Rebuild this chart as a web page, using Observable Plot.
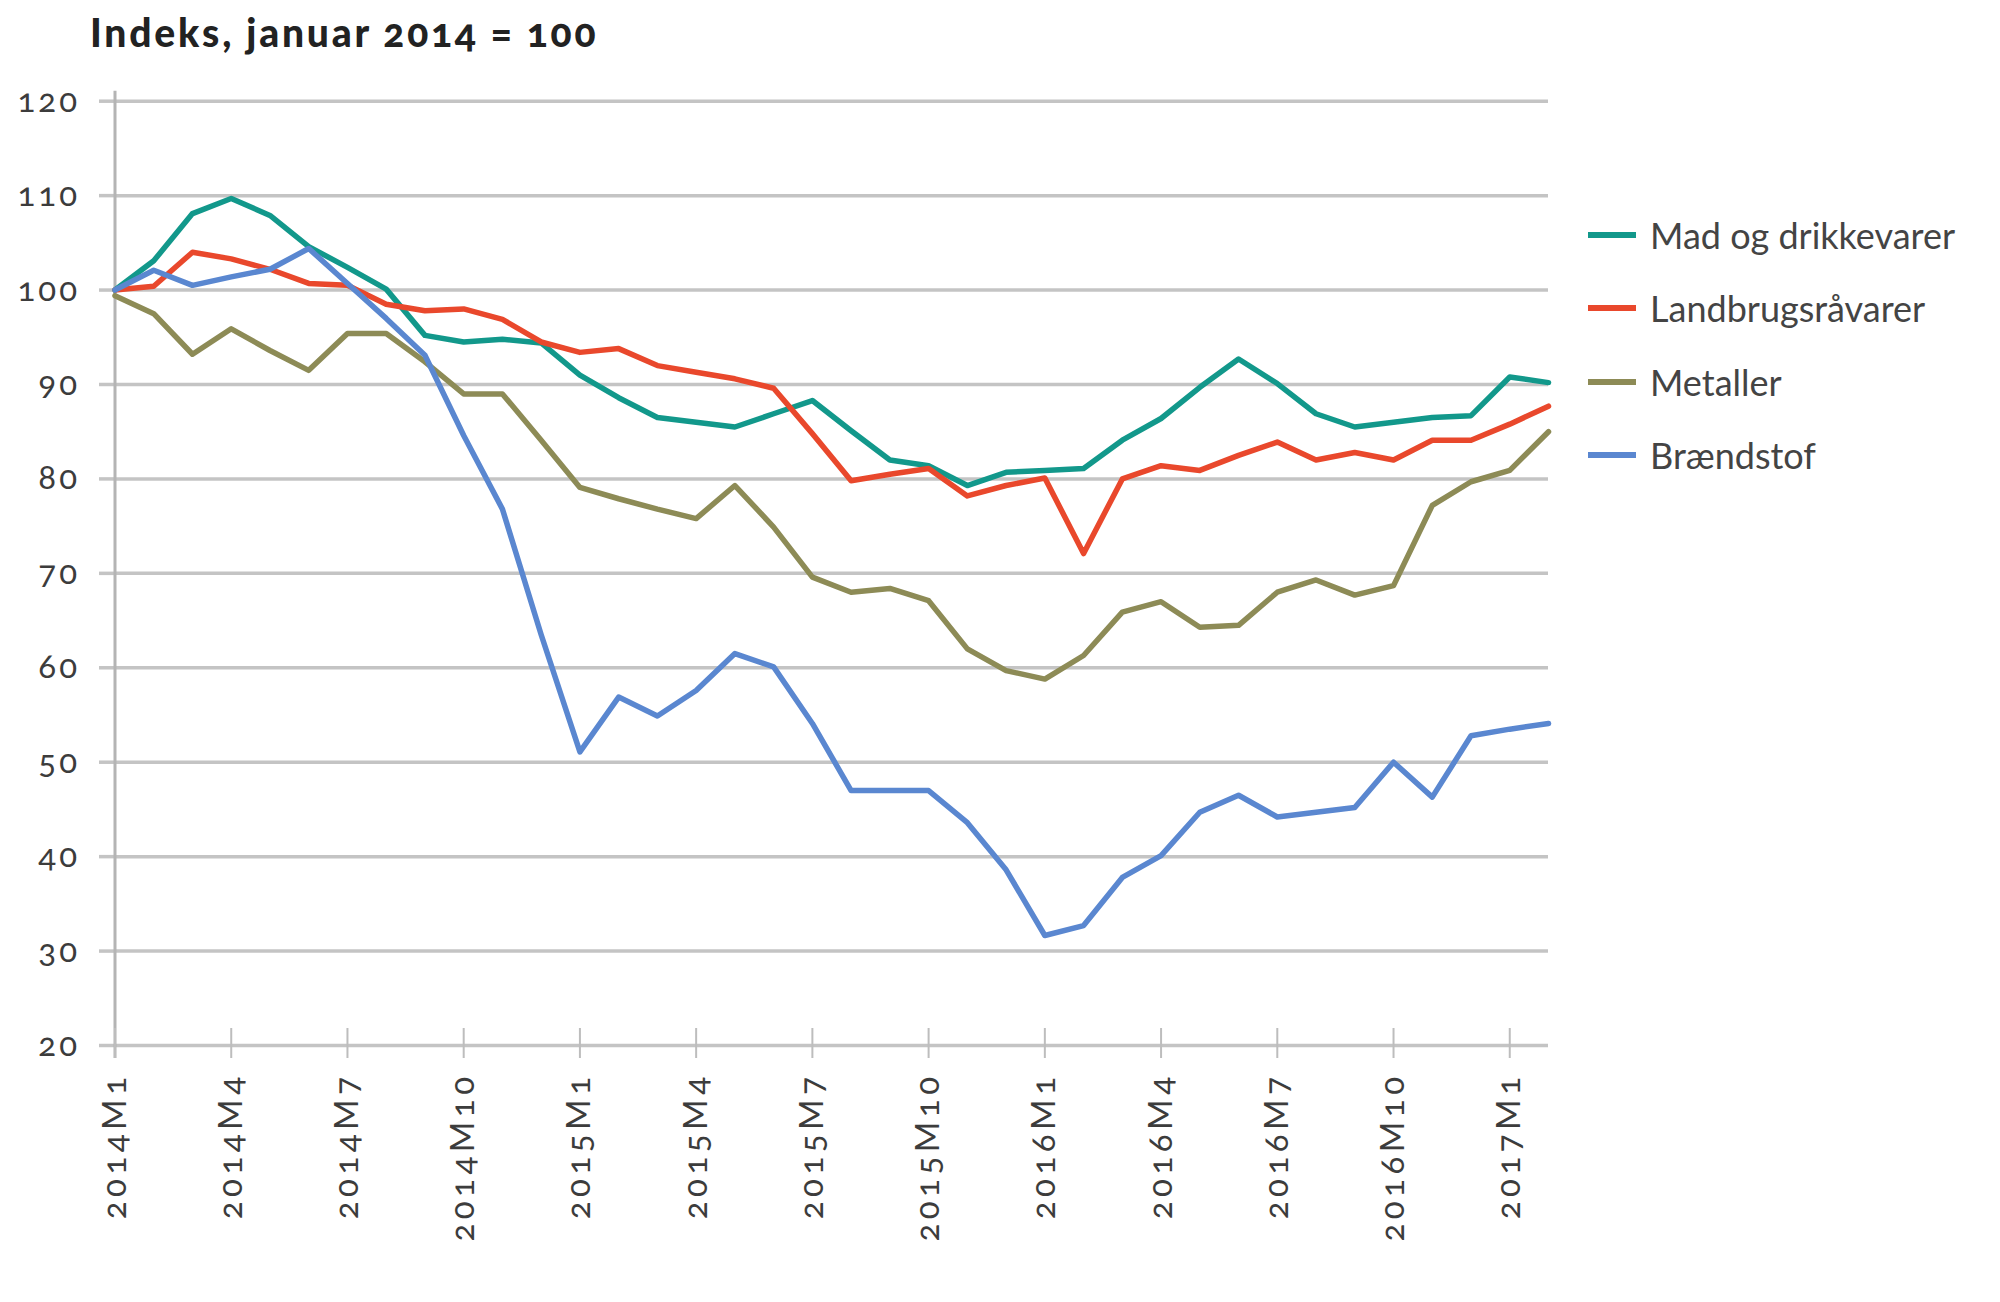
<!DOCTYPE html>
<html>
<head>
<meta charset="utf-8">
<script src="https://cdn.jsdelivr.net/npm/d3@7"></script>
<script src="https://cdn.jsdelivr.net/npm/@observablehq/plot@0.6"></script>
<style>
html, body { margin: 0; padding: 0; background: #fff; }
#wrap { position: relative; width: 2000px; height: 1302px; font-family: Lato, "Open Sans", sans-serif; overflow: hidden; }
#title { height: 70px; position: relative; }
#title span { position: absolute; left: 90px; top: 13px; font-size: 39px; line-height: 39px; font-weight: 900; letter-spacing: 2.8px; color: #222; font-variant-numeric: oldstyle-nums; white-space: nowrap; }
#chart svg { display: block; max-width: none !important; }
#chart svg text { letter-spacing: 3px; font-variant-numeric: oldstyle-nums; }
#chart svg g.xlab text { letter-spacing: 4.5px; }
#legend { position: absolute; left: 1588px; top: 198.3px; }
.row { display: flex; align-items: center; height: 73.3px; }
.sw { width: 48px; height: 6px; margin-right: 14px; }
.lab { font-size: 36px; color: #444; white-space: nowrap; }
</style>
</head>
<body>
<div id="wrap">
  <div id="title"><span>Indeks, januar 2014 = 100</span></div>
  <div id="chart"></div>
  <div id="legend"></div>
</div>
<script>
const months = [
  "2014M1","2014M2","2014M3","2014M4","2014M5","2014M6","2014M7","2014M8","2014M9","2014M10","2014M11","2014M12",
  "2015M1","2015M2","2015M3","2015M4","2015M5","2015M6","2015M7","2015M8","2015M9","2015M10","2015M11","2015M12",
  "2016M1","2016M2","2016M3","2016M4","2016M5","2016M6","2016M7","2016M8","2016M9","2016M10","2016M11","2016M12",
  "2017M1","2017M2"
];
const xTicks = ["2014M1","2014M4","2014M7","2014M10","2015M1","2015M4","2015M7","2015M10","2016M1","2016M4","2016M7","2016M10","2017M1"];
const yTicks = [20, 30, 40, 50, 60, 70, 80, 90, 100, 110, 120];

const seriesNames = ["Mad og drikkevarer", "Landbrugsråvarer", "Metaller", "Brændstof"];
const seriesColors = ["#12988b", "#e9482c", "#8d8b56", "#5a87d0"];

const madOgDrikkevarer = [100, 103.1, 108.1, 109.7, 107.9, 104.6, 102.4, 100.1, 95.2, 94.5, 94.8, 94.4, 91.0, 88.6, 86.5, 86.0, 85.5, 86.9, 88.3, 85.1, 82.0, 81.4, 79.3, 80.7, 80.9, 81.1, 84.1, 86.4, 89.7, 92.7, 90.1, 86.9, 85.5, 86.0, 86.5, 86.7, 90.8, 90.2];
const landbrugsravarer = [100, 100.4, 104.0, 103.3, 102.2, 100.7, 100.5, 98.5, 97.8, 98.0, 96.9, 94.5, 93.4, 93.8, 92.0, 91.3, 90.6, 89.6, 84.8, 79.8, 80.5, 81.1, 78.2, 79.3, 80.1, 72.1, 80.0, 81.4, 80.9, 82.5, 83.9, 82.0, 82.8, 82.0, 84.1, 84.1, 85.8, 87.7];
const metaller = [99.4, 97.5, 93.2, 95.9, 93.6, 91.5, 95.4, 95.4, 92.4, 89.0, 89.0, 84.1, 79.1, 77.9, 76.8, 75.8, 79.3, 74.9, 69.6, 68.0, 68.4, 67.1, 62.0, 59.7, 58.8, 61.3, 65.9, 67.0, 64.3, 64.5, 68.0, 69.3, 67.7, 68.7, 77.2, 79.7, 80.9, 85.0];
const braendstof = [100, 102.1, 100.5, 101.4, 102.2, 104.4, 100.7, 97.0, 93.1, 84.6, 76.8, 63.5, 51.1, 56.9, 54.9, 57.6, 61.5, 60.1, 54.1, 47.0, 47.0, 47.0, 43.6, 38.6, 31.65, 32.7, 37.8, 40.1, 44.7, 46.5, 44.2, 44.7, 45.2, 50.0, 46.3, 52.8, 53.5, 54.1];

const seriesValues = [madOgDrikkevarer, landbrugsravarer, metaller, braendstof];

// position of each month on the category axis = its index in `months`
const table = [];
seriesNames.forEach((name, s) => {
  seriesValues[s].forEach((v, i) => table.push({series: name, month: months[i], pos: months.indexOf(months[i]), value: v}));
});
const xTickPos = xTicks.map(m => months.indexOf(m));

const gridColor = "#c4c4c4";
const axisColor = "#b4b4b4";
const textColor = "#3c3c3c";

const chart = Plot.plot({
  width: 2000,
  height: 1232,
  marginLeft: 114.5,
  marginRight: 452,
  marginTop: 20.7,
  marginBottom: 244,
  style: {fontFamily: "Lato, 'Open Sans', sans-serif", fontSize: "33px", background: "#fff", overflow: "visible"},
  x: {type: "linear", domain: [0, months.length - 1]},
  y: {domain: [20, 120], insetTop: 10, insetBottom: 13},
  color: {domain: seriesNames, range: seriesColors},
  marks: [
    Plot.gridY(yTicks, {stroke: gridColor, strokeOpacity: 1, strokeWidth: 3.5}),
    Plot.axisY(yTicks, {tickSize: 15.5, stroke: gridColor, strokeWidth: 3.5, fill: "none", label: null}),
    Plot.axisY(yTicks, {tickSize: 0, tickPadding: 35, stroke: "none", fill: textColor, label: null}),
    Plot.ruleX([0], {stroke: axisColor, strokeWidth: 3}),
    Plot.axisX(xTickPos, {tickSize: 30, dy: -30, stroke: "#bdbdbd", strokeWidth: 2, fill: "none", label: null}),
    Plot.axisX(xTickPos, {tickSize: 0, tickPadding: 14, tickRotate: -90, tickFormat: i => months[i], stroke: "none", fill: textColor, label: null, className: "xlab"}),
    Plot.line(table, {x: "pos", y: "value", z: "series", stroke: "series", strokeWidth: 5.5, strokeLinejoin: "round"})
  ]
});
document.getElementById("chart").appendChild(chart);

const legend = document.getElementById("legend");
seriesNames.forEach((name, i) => {
  const row = document.createElement("div");
  row.className = "row";
  const sw = document.createElement("div");
  sw.className = "sw";
  sw.style.background = seriesColors[i];
  const lab = document.createElement("div");
  lab.className = "lab";
  lab.textContent = name;
  row.appendChild(sw);
  row.appendChild(lab);
  legend.appendChild(row);
});
</script>
</body>
</html>
